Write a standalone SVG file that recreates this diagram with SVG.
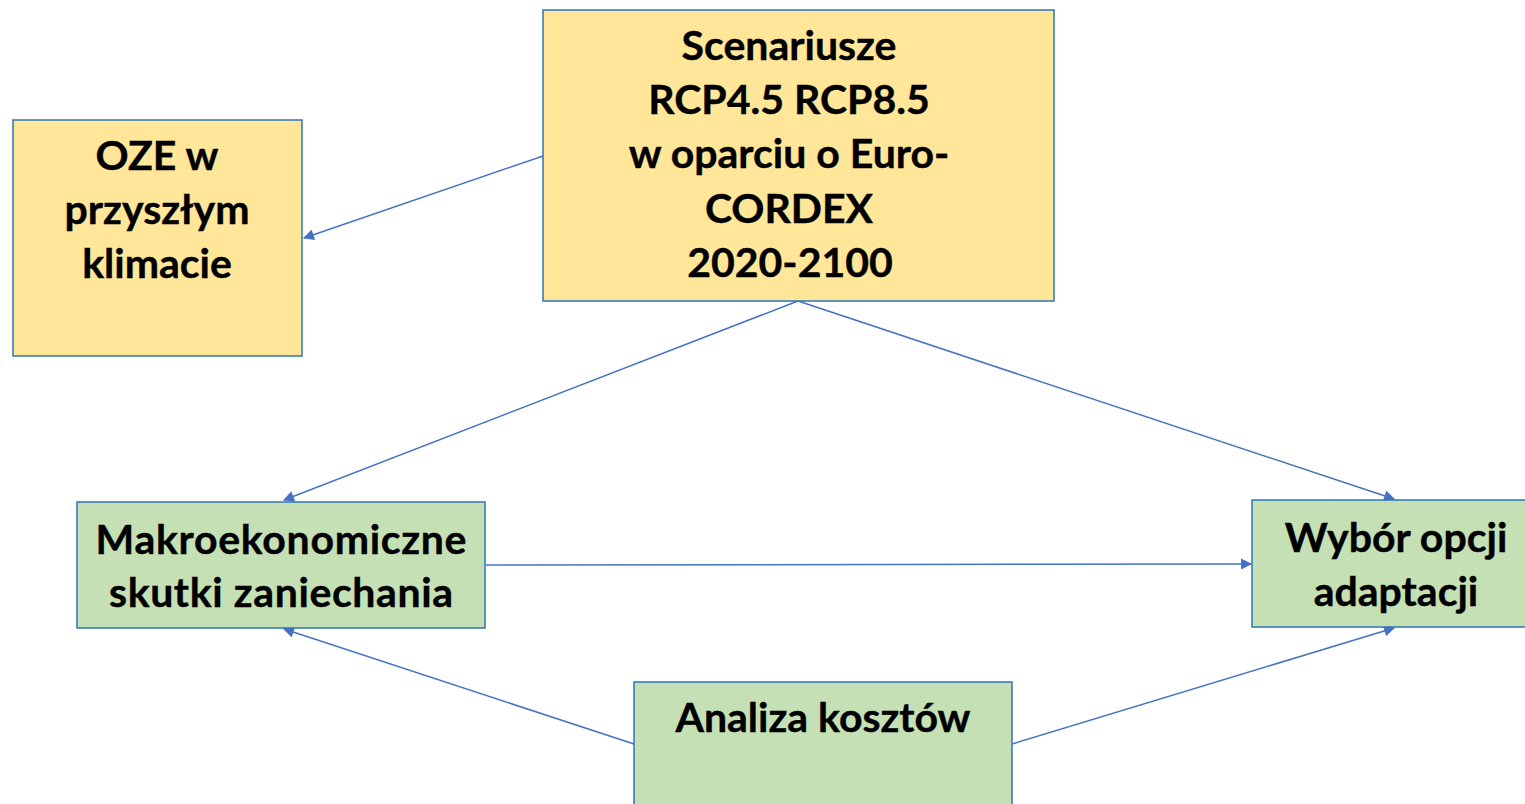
<svg xmlns="http://www.w3.org/2000/svg" width="1525" height="804" viewBox="0 0 1525 804">
<style>
.y{fill:#FFE699;stroke:#2E75B6;stroke-width:1.5}
.g{fill:#C5E0B4;stroke:#2E75B6;stroke-width:1.5}
.t{font-family:Lato,"Liberation Sans",sans-serif;font-weight:bold;font-size:41px;fill:#000;text-anchor:middle;stroke:#000;stroke-width:0.4}
.c{stroke:#4472C4;stroke-width:1.5;fill:none;marker-end:url(#a)}
</style>
<defs>
<marker id="a" viewBox="0 0 10 10" refX="9" refY="5" markerWidth="12" markerHeight="11" markerUnits="userSpaceOnUse" orient="auto">
<path d="M0,0 L10,5 L0,10 z" fill="#4472C4"/>
</marker>
</defs>
<rect width="1525" height="804" fill="#fff"/>
<g id="connectors">
<line class="c" x1="543" y1="156" x2="304" y2="238"/>
<line class="c" x1="798" y1="301" x2="284" y2="500"/>
<line class="c" x1="798" y1="301" x2="1394" y2="499"/>
<line class="c" x1="486" y1="565" x2="1251" y2="564"/>
<line class="c" x1="634" y1="744" x2="284" y2="629"/>
<line class="c" x1="1012" y1="744" x2="1394" y2="628"/>
</g>
<g id="oze">
<rect class="y" x="13" y="120" width="289" height="236"/>
<text class="t" x="157" y="170">OZE w</text>
<text class="t" x="157" y="224">przyszłym</text>
<text class="t" x="157" y="278">klimacie</text>
</g>
<g id="scenariusze">
<rect class="y" x="543" y="10" width="511" height="291"/>
<text class="t" x="789" y="60">Scenariusze</text>
<text class="t" x="789" y="114">RCP4.5 RCP8.5</text>
<text class="t" x="789" y="168">w oparciu o Euro-</text>
<text class="t" x="789" y="223">CORDEX</text>
<text class="t" x="790" y="277">2020-2100</text>
</g>
<g id="makro">
<rect class="g" x="77" y="502" width="408" height="126"/>
<text class="t" x="281" y="554" textLength="371">Makroekonomiczne</text>
<text class="t" x="281" y="607" textLength="344">skutki zaniechania</text>
</g>
<g id="wybor">
<rect class="g" x="1252" y="500" width="280" height="127"/>
<text class="t" x="1396" y="552">Wybór opcji</text>
<text class="t" x="1396" y="606">adaptacji</text>
</g>
<g id="analiza">
<rect class="g" x="634" y="682" width="378" height="130"/>
<text class="t" x="823" y="732">Analiza kosztów</text>
</g>
</svg>
